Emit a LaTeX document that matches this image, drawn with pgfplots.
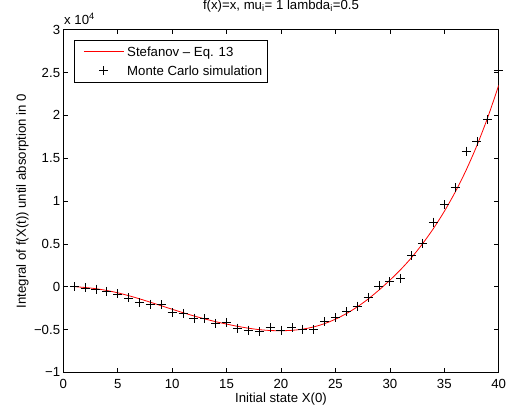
\documentclass[border=0pt]{standalone}
\usepackage{fontspec}
\setmainfont{Liberation Sans}
\usepackage{pgfplots}
\pgfplotsset{compat=1.18}
\newcommand{\myfont}{\fontsize{13.2}{15.8}\selectfont}
\begin{document}
\begin{tikzpicture}
\useasboundingbox (-63.3pt,-39.7pt) rectangle (451.7pt,372.3pt);
\begin{axis}[
  at={(0pt,0pt)}, anchor=south west,
  scale only axis, width=435.4pt, height=342.6pt,
  xmin=0, xmax=40, ymin=-1, ymax=3,
  clip mode=individual,
  xtick={0,5,...,40},
  ytick={-1,-0.5,0,0.5,1,1.5,2,2.5,3},
  yticklabels={−1,−0.5,0,0.5,1,1.5,2,2.5,3},
  axis line style={line width=0.8pt},
  tick style={line width=0.6pt, black},
  major tick length=4.5pt,
  tick align=inside,
  /pgf/number format/assume math mode=true,
  tick label style={font=\myfont},
  xticklabel style={anchor=base, yshift=-16pt},
  yticklabel style={anchor=east, inner sep=0pt, xshift=-3pt},
  xlabel={Initial state X(0)},
  xlabel style={font=\myfont, at={(axis description cs:0.5,-0.0896)}, anchor=base},
  ylabel={Integral of f(X(t)) until absorption in 0},
  ylabel style={font=\myfont, at={(axis description cs:-0.0857,0.5)}, anchor=base, rotate=0},
  title={f(x)=x, mu\textsubscript{i}= 1 lambda\textsubscript{i}=0.5},
  title style={font=\myfont, at={(axis description cs:0.5,1.0429)}, anchor=base},
  legend image code/.code={\path (-4pt,0pt); \draw[mark repeat=2,mark phase=2,#1] plot coordinates {(0pt,0pt) (20pt,0pt) (40pt,0pt)};},
  legend style={at={(axis description cs:0.0246,0.970)}, anchor=north west,
    draw=black, line width=0.8pt, inner xsep=5pt, inner ysep=1.85pt,
    column sep=3pt, row sep=0pt,
    nodes={font=\myfont, inner sep=0pt, text height=14.65pt, text depth=4.35pt}},
  legend cell align=left,
]
\addplot[red, line width=0.8pt, smooth, tension=0.5] coordinates {
(1,0) (2,-0.01) (3,-0.024) (4,-0.045) (5,-0.072) (6,-0.105) (7,-0.142) (8,-0.182)
(9,-0.223) (10,-0.264) (11,-0.304) (12,-0.342) (13,-0.377) (14,-0.409) (15,-0.437)
(16,-0.463) (17,-0.485) (18,-0.502) (19,-0.512) (20,-0.515) (21,-0.51) (22,-0.496)
(23,-0.47) (24,-0.432) (25,-0.38) (26,-0.315) (27,-0.237) (28,-0.145) (29,-0.04)
(30,0.075) (31,0.2) (32,0.34) (33,0.5) (34,0.678) (35,0.878) (36,1.103) (37,1.358)
(38,1.648) (39,1.978) (40,2.35)
};
\addlegendentry{Stefanov -- Eq. 13}
\addplot[black, only marks, mark=+, mark size=4.5pt, mark options={line width=0.7pt}] coordinates {
(1,0) (2,-0.015) (3,-0.03) (4,-0.054) (5,-0.085) (6,-0.132) (7,-0.187) (8,-0.203)
(9,-0.211) (10,-0.304) (11,-0.311) (12,-0.367) (13,-0.375) (14,-0.429) (15,-0.417)
(16,-0.484) (17,-0.507) (18,-0.527) (19,-0.475) (20,-0.508) (21,-0.48) (22,-0.495)
(23,-0.503) (24,-0.41) (25,-0.363) (26,-0.293) (27,-0.226) (28,-0.124) (29,0.008)
(30,0.059) (31,0.098) (32,0.36) (33,0.508) (34,0.754) (35,0.957) (36,1.156)
(37,1.581) (38,1.694) (39,1.948) (40,2.522)
};
\addlegendentry{Monte Carlo simulation}
\node[font=\myfont, anchor=base west, inner sep=0pt] at (axis description cs:0.0016,1.0166) {x 10\textsuperscript{4}};
\end{axis}
\end{tikzpicture}
\end{document}
